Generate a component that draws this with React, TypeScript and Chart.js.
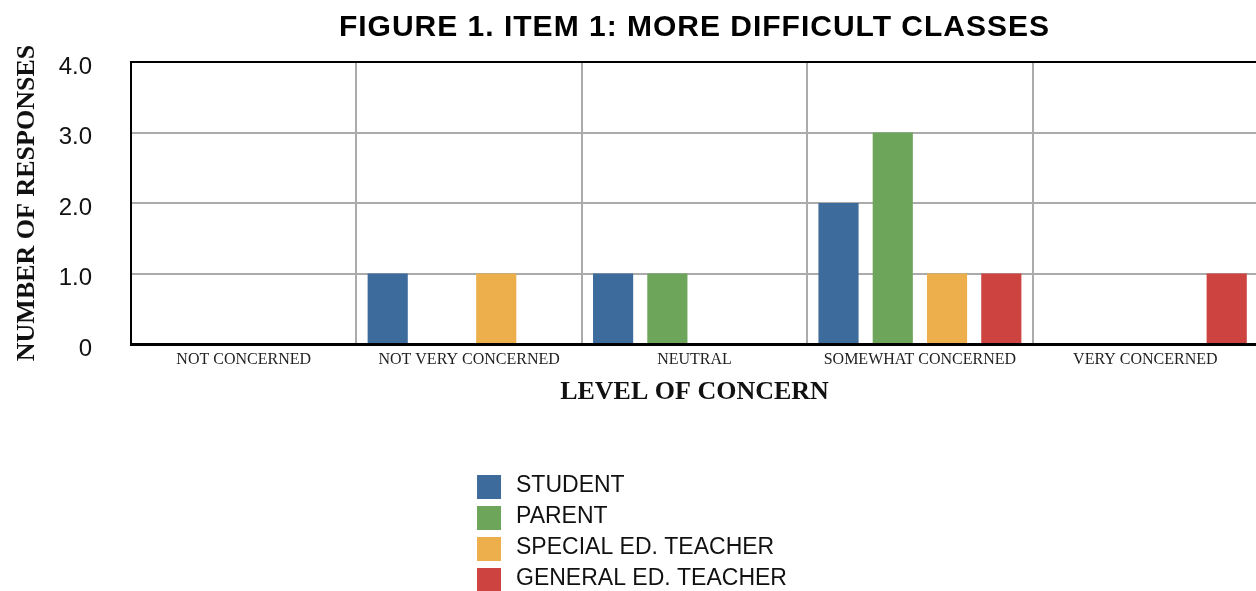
import React, { useEffect, useRef } from 'react';
import { Chart, registerables } from 'chart.js';

Chart.register(...registerables);

const categories = ['NOT CONCERNED', 'NOT VERY CONCERNED', 'NEUTRAL', 'SOMEWHAT CONCERNED', 'VERY CONCERNED'];
const studentValues = [0, 1, 1, 2, 0];
const parentValues = [0, 0, 1, 3, 0];
const specialEdValues = [0, 1, 0, 1, 0];
const generalEdValues = [0, 0, 0, 1, 1];
const seriesNames = ['STUDENT', 'PARENT', 'SPECIAL ED. TEACHER', 'GENERAL ED. TEACHER'];
const seriesColors = ['#3d6b9b', '#6da55a', '#ecaf4c', '#cc4340'];
const yTickLabels = ['0', '1.0', '2.0', '3.0', '4.0'];
const chartTitle = 'FIGURE 1. ITEM 1: MORE DIFFICULT CLASSES';
const xAxisTitle = 'LEVEL OF CONCERN';
const yAxisTitle = 'NUMBER OF RESPONSES';

const titlePlugin = {
  id: 'centeredTitle',
  afterDraw(chart: any) {
    const { ctx, chartArea } = chart;
    ctx.save();
    ctx.font = 'bold 30px "Liberation Sans", Arial, sans-serif';
    try { (ctx as any).letterSpacing = '1px'; } catch (e) {}
    ctx.fillStyle = '#000';
    ctx.textAlign = 'center';
    ctx.textBaseline = 'middle';
    ctx.fillText(chartTitle, (chartArea.left + chartArea.right) / 2, 28);
    ctx.restore();
  },
};

const legendPlugin = {
  id: 'stackedLegend',
  afterDraw(chart: any) {
    const { ctx } = chart;
    const datasets = chart.data.datasets;
    ctx.save();
    ctx.font = '23px "Liberation Sans", Arial, sans-serif';
    let maxW = 0;
    datasets.forEach((d: any) => {
      maxW = Math.max(maxW, ctx.measureText(d.label).width);
    });
    const box = 24;
    const gap = 15;
    const blockW = box + gap + maxW;
    const startX = chart.width / 2 - blockW / 2 + 1;
    const top = chart.scales.x.bottom + 65;
    const rowH = 31;
    datasets.forEach((d: any, i: number) => {
      const y = top + i * rowH;
      ctx.fillStyle = d.backgroundColor;
      ctx.fillRect(startX, y, box, box);
      ctx.fillStyle = '#111';
      ctx.textAlign = 'left';
      ctx.textBaseline = 'middle';
      ctx.fillText(d.label, startX + box + gap, y + box / 2 - 1);
    });
    ctx.restore();
  },
};

export default function App() {
  const canvasRef = useRef<HTMLCanvasElement>(null);

  useEffect(() => {
    if (!canvasRef.current) return;
    const valueSets = [studentValues, parentValues, specialEdValues, generalEdValues];
    const chart = new Chart(canvasRef.current, {
      type: 'bar',
      data: {
        labels: categories,
        datasets: seriesNames.map((name, i) => ({
          label: name,
          data: valueSets[i],
          backgroundColor: seriesColors[i],
          borderWidth: 0,
          categoryPercentage: 0.963,
          barPercentage: 0.74,
        })),
      },
      options: {
        animation: false,
        responsive: true,
        maintainAspectRatio: false,
        layout: { padding: { top: 62, left: 6, right: 4, bottom: 181 } },
        plugins: {
          legend: { display: false },
          title: { display: false },
          tooltip: { enabled: false },
        },
        scales: {
          x: {
            grid: { color: '#ababab', lineWidth: 2, drawTicks: false, offset: true },
            border: { display: true, color: '#000', width: 3 },
            ticks: {
              font: { family: '"Liberation Serif", "Times New Roman", serif', size: 16 },
              color: '#222',
              padding: 6,
              maxRotation: 0,
              autoSkip: false,
            },
            title: {
              display: true,
              text: xAxisTitle,
              font: { family: '"Liberation Serif", "Times New Roman", serif', size: 26, weight: 'bold' },
              color: '#111',
              padding: { top: 7, bottom: 2 },
            },
            afterFit: (s: any) => {
              s.height = 66;
            },
          },
          y: {
            min: 0,
            max: 4,
            grid: {
              color: (c: any) => (c.tick && c.tick.value === 4 ? '#000' : '#ababab'),
              lineWidth: 2,
              drawTicks: false,
            },
            border: { display: true, color: '#000', width: 2 },
            ticks: {
              stepSize: 1,
              padding: 39,
              labelOffset: 5,
              font: { family: '"Liberation Sans", Arial, sans-serif', size: 24 },
              color: '#111',
              callback: (v: any) => yTickLabels[Number(v)],
            },
            title: {
              display: true,
              text: yAxisTitle,
              font: { family: '"Liberation Serif", "Times New Roman", serif', size: 26, weight: 'bold' },
              color: '#111',
              padding: { top: 6, bottom: 2 },
            },
            afterFit: (s: any) => {
              s.width = 125;
            },
          },
        },
      },
      plugins: [titlePlugin, legendPlugin],
    });
    return () => chart.destroy();
  }, []);

  return (
    <div style={{ position: 'fixed', left: 0, top: 0, width: '100vw', height: '100vh', overflow: 'hidden', background: '#fff' }}>
      <div style={{ position: 'absolute', left: 0, top: 0, width: 1262, height: 591 }}>
        <canvas ref={canvasRef} />
      </div>
    </div>
  );
}
